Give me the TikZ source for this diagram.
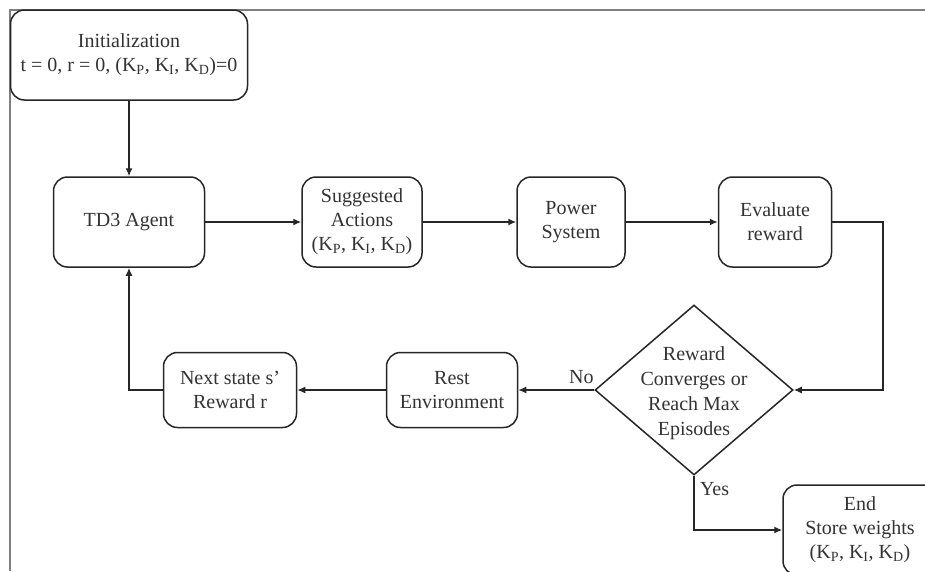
\documentclass[tikz,border=0pt]{standalone}
\usepackage{fontspec}
\setmainfont{Liberation Serif}
\usepackage{xcolor}
\usepackage{tikz}
\usetikzlibrary{positioning,shapes.geometric,arrows.meta}

\begin{document}
\begin{tikzpicture}[x=1pt, y=-1pt,
    font=\fontsize{20}{24}\selectfont,
    box/.style={draw=black!85, fill=white, line width=1.5pt, rounded corners=14pt,
        align=center, text=black!80, inner sep=0pt},
    decision/.style={draw=black!85, fill=white, line width=1.5pt, diamond, inner sep=0pt,
        minimum width=198pt, minimum height=170pt},
    flow/.style={draw=black!85, line width=1.4pt, -{Latex[length=8pt,width=7pt]}},
    lbl/.style={text=black!80}]
    \path[use as bounding box, clip] (0,0) rectangle (925,571);
    \draw[gray, line width=1.5pt] (10,571) -- (10,10) -- (925,10);

    \node[box, minimum width=237pt, minimum height=90pt] (init) at (129,55)
        {Initialization\\t = 0, r = 0, (K\textsubscript{P}, K\textsubscript{I}, K\textsubscript{D})=0};
    \node[box, minimum width=151pt, minimum height=90pt] (agent) at (129,222) {TD3 Agent};
    \node[box, minimum width=120pt, minimum height=90pt] (actions) at (362,222)
        {Suggested\\Actions\\(K\textsubscript{P}, K\textsubscript{I}, K\textsubscript{D})};
    \node[box, minimum width=108pt, minimum height=90pt] (power) at (571,222) {Power\\System};
    \node[box, minimum width=113pt, minimum height=90pt] (evaluate) at (775,222) {Evaluate\\reward};
    \node[decision, label={[align=center, lbl, font=\fontsize{20}{25}\selectfont, yshift=-3pt]center:Reward\\Converges or\\Reach Max\\Episodes}]
        (decision) at (694,390) {};
    \node[box, minimum width=131pt, minimum height=75pt] (rest) at (452,390) {Rest\\Environment};
    \node[box, minimum width=133pt, minimum height=75pt] (next) at (230,390) {Next state s'\\Reward r};
    \node[box, minimum width=154pt, minimum height=90pt] (end) at (860,530)
        {End\\Store weights\\(K\textsubscript{P}, K\textsubscript{I}, K\textsubscript{D})};

    \coordinate (turn) at (883,222);

    \draw[flow] (init) -- (agent);
    \draw[flow] (agent) -- (actions);
    \draw[flow] (actions) -- (power);
    \draw[flow] (power) -- (evaluate);
    \draw[flow] (evaluate.east) -- (turn) |- (decision.east);
    \draw[flow] (decision.west) -- node[lbl, pos=0.17, above=2pt] {No} (rest.east);
    \draw[flow] (rest) -- (next);
    \draw[flow] (next.west) -| (agent.south);
    \draw[flow] (decision.south) |- node[lbl, pos=0.12, right=2pt] {Yes} (end.west);
\end{tikzpicture}
\end{document}
